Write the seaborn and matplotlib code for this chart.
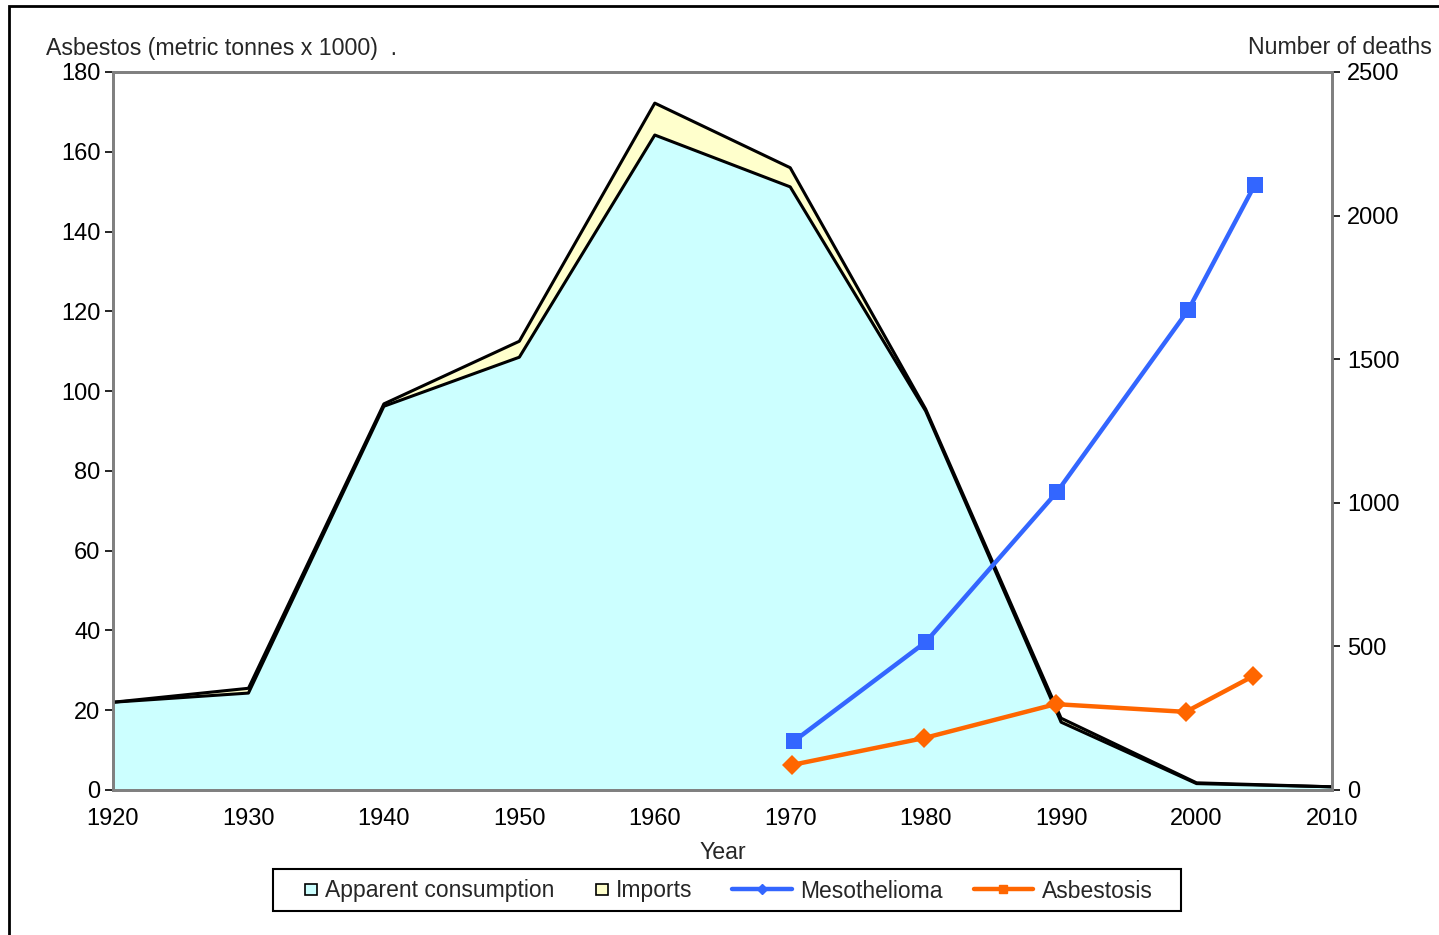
import matplotlib
matplotlib.use("Agg")
import matplotlib.pyplot as plt
from matplotlib.patches import Rectangle
from matplotlib.lines import Line2D
from matplotlib.legend_handler import HandlerBase
import seaborn as sns
import pandas as pd

# Asbestos supply (metric tonnes x 1000)
years = [1920, 1930, 1940, 1950, 1960, 1970, 1980, 1990, 2000, 2010]
apparent_consumption = [22.0, 24.3, 96.2, 108.5, 164.2, 151.2, 95.0, 17.0, 1.6, 0.8]
imports = [0.0, 1.2, 0.6, 4.0, 8.0, 4.8, 0.5, 1.0, 0.2, 0.0]

# Deaths
death_years = [1970.3, 1980.0, 1989.7, 1999.4, 2004.3]
mesothelioma = [171, 515, 1038, 1672, 2107]
asbestosis_years = [1970.1, 1979.9, 1989.6, 1999.2, 2004.2]
asbestosis = [87, 181, 299, 272, 397]

x_ticks = [1920, 1930, 1940, 1950, 1960, 1970, 1980, 1990, 2000, 2010]
left_ticks = [0, 20, 40, 60, 80, 100, 120, 140, 160, 180]
right_ticks = [0, 500, 1000, 1500, 2000, 2500]

sns.set_theme(style="white")
plt.rcParams["font.family"] = ["Liberation Sans", "DejaVu Sans"]

CYAN = "#CCFFFF"
CREAM = "#FFFFCC"
BLUE = "#3366FF"
ORANGE = "#FF6600"
GREY = "#808080"
FS_TICK = 17
FS_TITLE = 16.7
FS_LEG = 16.5

W, H = 1439, 935
fig = plt.figure(figsize=(W / 100, H / 100), dpi=100)
ax = fig.add_axes([113 / W, 1 - 790 / H, (1332 - 113) / W, (790 - 72) / H])

total = [a + b for a, b in zip(apparent_consumption, imports)]
ax.fill_between(years, 0, total, color=CREAM, linewidth=0, zorder=1)
ax.fill_between(years, 0, apparent_consumption, color=CYAN, linewidth=0, zorder=2)
ax.plot(years, total, color="black", lw=2.2, zorder=3)
ax.plot(years, apparent_consumption, color="black", lw=2.2, zorder=3)

ax.set_xlim(1920, 2010)
ax.set_ylim(0, 180)
ax.set_xticks(x_ticks)
ax.set_yticks(left_ticks)
ax.tick_params(axis="both", which="major", direction="out", length=6, width=1.2,
               color="black", labelsize=FS_TICK, labelcolor="black", pad=3)
ax.tick_params(axis="x", pad=7)
for s in ax.spines.values():
    s.set_color(GREY)
    s.set_linewidth(2)
ax.set_xlabel("Year", fontsize=FS_TITLE, labelpad=8)

ax2 = ax.twinx()
meso_df = pd.DataFrame({"year": death_years, "deaths": mesothelioma})
asb_df = pd.DataFrame({"year": asbestosis_years, "deaths": asbestosis})
sns.lineplot(data=meso_df, x="year", y="deaths", ax=ax2, color=BLUE, lw=3.2,
             marker="s", markersize=12, markeredgewidth=0, zorder=5)
sns.lineplot(data=asb_df, x="year", y="deaths", ax=ax2, color=ORANGE, lw=3.2,
             marker="D", markersize=10, markeredgewidth=0, zorder=5)
ax2.set_ylim(0, 2500)
ax2.set_xlim(1920, 2010)
ax2.set_yticks(right_ticks)
ax2.set_ylabel("")
ax2.set_xlabel("")
ax2.tick_params(axis="y", direction="out", length=6, width=1.2, color="black",
                labelsize=FS_TICK, labelcolor="black", pad=5, right=True)
for s in ax2.spines.values():
    s.set_color(GREY)
    s.set_linewidth(2)
ax2.grid(False)
ax.grid(False)

fig.text(46 / W, 1 - 48 / H, "Asbestos (metric tonnes x 1000)  .", fontsize=FS_TITLE,
         ha="left", va="center")
fig.text(1432 / W, 1 - 48 / H, "Number of deaths", fontsize=FS_TITLE,
         ha="right", va="center")


class SquareHandler(HandlerBase):
    """Small outlined square filling the handle box width."""

    def create_artists(self, legend, orig_handle, xdescent, ydescent,
                       width, height, fontsize, trans):
        s = width
        r = Rectangle((-xdescent, (height - s) / 2 - ydescent), s, s,
                      facecolor=orig_handle.get_facecolor(), edgecolor="black",
                      lw=1.2, transform=trans)
        return [r]


LEG_Y = 1 - 891 / H
common = dict(loc="center left", frameon=False, fontsize=FS_LEG, borderpad=0,
              borderaxespad=0, ncol=2)

# area entries
fig.legend([Rectangle((0, 0), 1, 1, facecolor=CYAN),
            Rectangle((0, 0), 1, 1, facecolor=CREAM)],
           ["Apparent consumption", "Imports"],
           bbox_to_anchor=(305 / W, LEG_Y), handlelength=0.52, handleheight=0.7,
           handletextpad=0.36, columnspacing=1.8,
           handler_map={Rectangle: SquareHandler()}, **common)

# line entries
fig.legend([Line2D([], [], color=BLUE, lw=3.2, marker="D", markersize=5),
            Line2D([], [], color=ORANGE, lw=3.2, marker="s", markersize=6)],
           ["Mesothelioma", "Asbestosis"],
           bbox_to_anchor=(732 / W, LEG_Y), handlelength=2.6, numpoints=1,
           handletextpad=0.37, columnspacing=1.35, **common)

# legend box
fig.add_artist(Rectangle((273 / W, 1 - 911 / H), (1181 - 273) / W, (911 - 869) / H,
                         transform=fig.transFigure, fill=False, edgecolor="black",
                         lw=1.5))

# outer figure frame
fig.add_artist(Rectangle((9 / W, -0.05), 1.2, 1 - 6 / H + 0.05,
                         transform=fig.transFigure, fill=False, edgecolor="black",
                         lw=2, clip_on=False))

fig.savefig("out.png", dpi=100)
